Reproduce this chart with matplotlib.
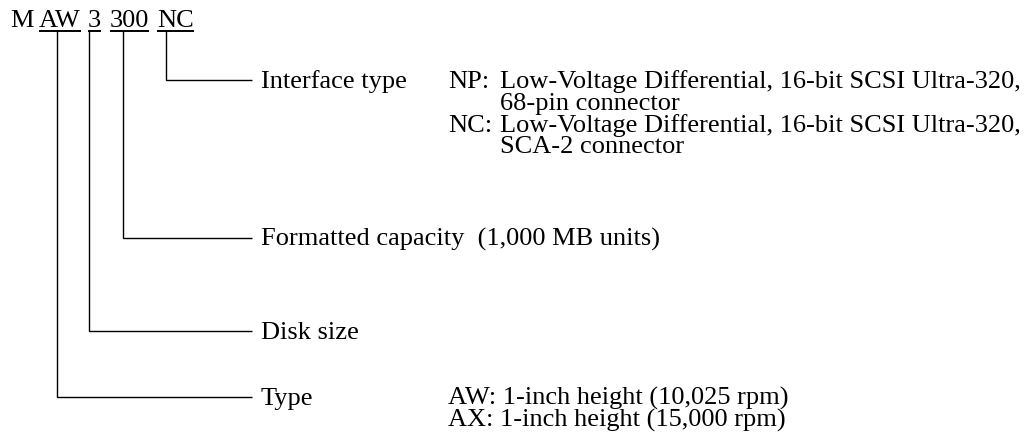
#PURPOSE: Model name breakdown diagram (MAW3300NC)

import matplotlib
matplotlib.use('Agg')
import matplotlib.pyplot as plt

plt.rcParams['font.family'] = ['Liberation Serif', 'DejaVu Serif']

# header parts of the model name and where each one starts
name_parts = ['M', 'AW', '3', '300', 'NC']
name_x = [10, 39, 88, 110, 157]
underlined = [False, True, True, True, True]

# leader lines: x of the vertical drop and y of the horizontal run
leader_x = [166, 123, 89, 57]
leader_y = [80, 238, 331, 397]
leader_labels = ['Interface type', 'Formatted capacity  (1,000 MB units)',
                 'Disk size', 'Type']

# code explanations (code, text lines)
interface_codes = ['NP:', 'NC:']
interface_text = [['Low-Voltage Differential, 16-bit SCSI Ultra-320,', '68-pin connector'],
                  ['Low-Voltage Differential, 16-bit SCSI Ultra-320,', 'SCA-2 connector']]
type_codes = ['AW:', 'AX:']
type_text = ['1-inch height (10,025 rpm)', '1-inch height (15,000 rpm)']

W, H = 1032, 445
fig = plt.figure(figsize=(W / 100, H / 100), dpi=100)
ax = fig.add_axes([0, 0, 1, 1])
ax.set_xlim(0, W)
ax.set_ylim(H, 0)
ax.axis('off')

fsize = 19
base_off = 8     # baseline sits a bit below the leader line
row_gap = 21.8
lw = 1.0

# model name with underlines
fig.canvas.draw()
renderer = fig.canvas.get_renderer()
inv = ax.transData.inverted()
for part, x, ul in zip(name_parts, name_x, underlined):
    t = ax.text(x, 27, part, fontsize=fsize, va='baseline', ha='left')
    if ul:
        bb = t.get_window_extent(renderer=renderer)
        (x0, _), (x1, _) = inv.transform([(bb.x0, 0), (bb.x1, 0)])
        ax.plot([x0, x1], [31, 31], color='black', lw=1.4, solid_capstyle='butt')

# leader lines
line_end = 252
for x, y in zip(leader_x, leader_y):
    ax.plot([x, x, line_end], [31, y, y], color='black', lw=lw,
            solid_joinstyle='miter', solid_capstyle='butt')

for y, label in zip(leader_y, leader_labels):
    ax.text(261, y + base_off, label, fontsize=fsize, va='baseline', ha='left')

# interface type explanations
code_x = 448
desc_x = 500
row = 0
for code, lines in zip(interface_codes, interface_text):
    ax.text(code_x, leader_y[0] + base_off + row * row_gap, code,
            fontsize=fsize, va='baseline', ha='left')
    for line in lines:
        ax.text(desc_x, leader_y[0] + base_off + row * row_gap, line,
                fontsize=fsize, va='baseline', ha='left')
        row += 1

# type explanations
for i, (code, txt) in enumerate(zip(type_codes, type_text)):
    ax.text(code_x, leader_y[3] + base_off + i * row_gap, code + ' ' + txt,
            fontsize=fsize, va='baseline', ha='left')

fig.savefig('out.png', dpi=100)
